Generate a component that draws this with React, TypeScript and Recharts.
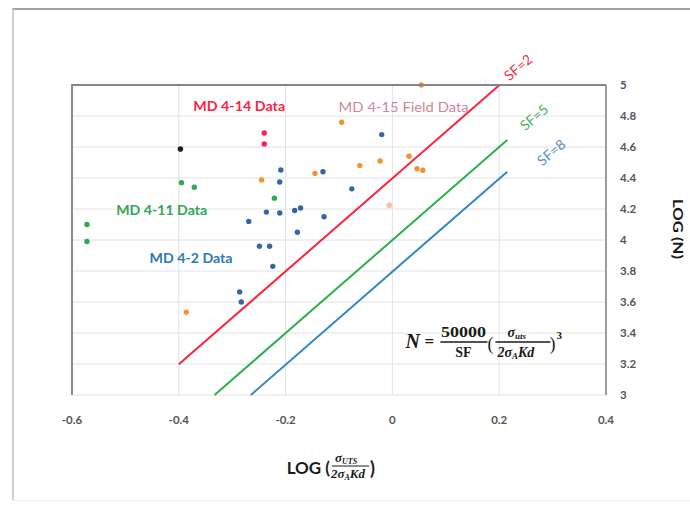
import React from "react";
import {
  ScatterChart,
  Scatter,
  XAxis,
  YAxis,
  CartesianGrid,
  ReferenceDot,
} from "recharts";

// axis ticks
const xTicks = [-0.6, -0.4, -0.2, 0, 0.2, 0.4];
const yTicks = [3, 3.2, 3.4, 3.6, 3.8, 4, 4.2, 4.4, 4.6, 4.8, 5];

// MD 4-2 (blue)
const md42 = [
  { x: -0.02, y: 4.68 },
  { x: -0.209, y: 4.452 },
  { x: -0.13, y: 4.44 },
  { x: -0.211, y: 4.374 },
  { x: -0.076, y: 4.33 },
  { x: -0.236, y: 4.18 },
  { x: -0.211, y: 4.174 },
  { x: -0.183, y: 4.19 },
  { x: -0.172, y: 4.206 },
  { x: -0.128, y: 4.15 },
  { x: -0.269, y: 4.12 },
  { x: -0.178, y: 4.05 },
  { x: -0.249, y: 3.96 },
  { x: -0.23, y: 3.96 },
  { x: -0.224, y: 3.83 },
  { x: -0.286, y: 3.665 },
  { x: -0.283, y: 3.6 },
];

// lone black point
const otherPts = [{ x: -0.397, y: 4.587 }];

// MD 4-11 (green)
const md411 = [
  { x: -0.395, y: 4.37 },
  { x: -0.371, y: 4.34 },
  { x: -0.572, y: 4.1 },
  { x: -0.572, y: 3.99 },
  { x: -0.221, y: 4.27 },
];

// MD 4-14 (red)
const md414 = [
  { x: -0.24, y: 4.69 },
  { x: -0.24, y: 4.62 },
];

// MD 4-15 field data (orange)
const md415 = [
  { x: -0.245, y: 4.387 },
  { x: -0.095, y: 4.76 },
  { x: 0.054, y: 5.0 },
  { x: -0.061, y: 4.48 },
  { x: -0.023, y: 4.51 },
  { x: -0.145, y: 4.43 },
  { x: 0.031, y: 4.54 },
  { x: 0.046, y: 4.46 },
  { x: 0.057, y: 4.45 },
  { x: -0.386, y: 3.535 },
];
const md415Faded = [{ x: -0.006, y: 4.225 }];

// safety factor lines
const sf2Line = [
  { x: -0.4, y: 3.198 },
  { x: 0.2, y: 4.998 },
];
const sf5Line = [
  { x: -0.333, y: 3.0 },
  { x: 0.215, y: 4.645 },
];
const sf8Line = [
  { x: -0.265, y: 3.0 },
  { x: 0.215, y: 4.441 },
];

const SANS = "Lato, 'Open Sans', sans-serif";
const SERIF = "'Liberation Serif', 'DejaVu Serif', serif";

const tickStyle = { fontSize: 11.5, fill: "#555555", fontWeight: 700, fontFamily: SANS };

function dot(color: string, r = 2.7) {
  return (p: any) => <circle cx={p.cx} cy={p.cy} r={r} fill={color} />;
}

const noDot = () => <g />;

function note(text: string, color: string, size: number, weight: number, width?: number) {
  return (p: any) => (
    <text
      x={p.cx}
      y={p.cy}
      textAnchor="middle"
      dominantBaseline="central"
      fill={color}
      fontSize={size}
      fontWeight={weight}
      fontFamily={SANS}
      textLength={width}
      lengthAdjust="spacingAndGlyphs"
    >
      {text}
    </text>
  );
}

function sfNote(text: string, color: string) {
  return (p: any) => (
    <text
      x={p.cx}
      y={p.cy}
      textAnchor="middle"
      dominantBaseline="central"
      fill={color}
      fontSize={14}
      fontFamily={SANS}
      transform={`rotate(-40 ${p.cx} ${p.cy})`}
    >
      {text}
    </text>
  );
}

function Formula(p: any) {
  const x = p.cx;
  const y = p.cy;
  const bold = { fontFamily: SERIF, fontWeight: 700, fill: "#1a1a1a" };
  return (
    <g>
      <text x={x} y={y + 6} fontSize={20} fontStyle="italic" {...bold}>
        N
      </text>
      <text x={x + 19} y={y + 5} fontSize={17} {...bold}>
        =
      </text>
      <text x={x + 58} y={y - 5} fontSize={14} textAnchor="middle" textLength={45} lengthAdjust="spacingAndGlyphs" {...bold}>
        50000
      </text>
      <line x1={x + 35} x2={x + 82} y1={y} y2={y} stroke="#1a1a1a" strokeWidth={1.3} />
      <text x={x + 58} y={y + 15} fontSize={14} textAnchor="middle" {...bold}>
        SF
      </text>
      <text x={x + 82} y={y + 8} fontSize={18} fontFamily={SERIF} fill="#1a1a1a">
        (
      </text>
      <text x={x + 102} y={y - 5} fontSize={14} fontStyle="italic" {...bold}>
        σ
        <tspan fontSize={9} dy={2}>
          uts
        </tspan>
      </text>
      <line x1={x + 90} x2={x + 145} y1={y} y2={y} stroke="#1a1a1a" strokeWidth={1.3} />
      <text x={x + 92} y={y + 15} fontSize={14} fontStyle="italic" {...bold}>
        2σ
        <tspan fontSize={9} dy={2}>
          A
        </tspan>
        <tspan dy={-2}>Kd</tspan>
      </text>
      <text x={x + 144} y={y + 8} fontSize={18} fontFamily={SERIF} fill="#1a1a1a">
        )
      </text>
      <text x={x + 151} y={y - 3} fontSize={11} {...bold}>
        3
      </text>
    </g>
  );
}

function XTitle(props: any) {
  const vb = props.viewBox;
  const cx = vb.x + vb.width / 2 - 6;
  const top = vb.y;
  const f = { fontFamily: SERIF, fontWeight: 700, fontStyle: "italic", fill: "#1a1a1a" } as const;
  return (
    <g>
      <text x={cx - 3} y={top + 79} textAnchor="end" fontSize={17} fontWeight={700} fontFamily={SANS} fill="#1a1a1a">
        LOG (
      </text>
      <text x={cx + 2} y={top + 67} fontSize={13} {...f}>
        σ
        <tspan fontSize={8} dy={2}>
          UTS
        </tspan>
      </text>
      <line x1={cx - 1} x2={cx + 36} y1={top + 71} y2={top + 71} stroke="#1a1a1a" strokeWidth={1} />
      <text x={cx - 2} y={top + 83} fontSize={13} {...f}>
        2σ
        <tspan fontSize={8} dy={2}>
          A
        </tspan>
        <tspan dy={-2}>Kd</tspan>
      </text>
      <text x={cx + 37} y={top + 80} fontSize={18} fontWeight={700} fontFamily={SANS} fill="#1a1a1a">
        )
      </text>
    </g>
  );
}

function YTitle(props: any) {
  const vb = props.viewBox;
  const x = vb.x + 72;
  const y = vb.y + vb.height / 2 - 11;
  return (
    <text
      x={x}
      y={y}
      textAnchor="middle"
      dominantBaseline="central"
      fontSize={13}
      fontWeight={700}
      fontFamily={SANS}
      fill="#1a1a1a"
      transform={`rotate(90 ${x} ${y})`}
      textLength={60}
      lengthAdjust="spacingAndGlyphs"
    >
      LOG (N)
    </text>
  );
}

export default function App() {
  return (
    <div style={{ position: "absolute", left: 0, top: 0, width: 690, height: 506, background: "#fff" }}>
      {/* outer picture frame */}
      <div
        style={{
          position: "absolute",
          left: 12,
          top: 8,
          right: 0,
          bottom: 5,
          borderTop: "2px solid #a3a3a3",
          borderLeft: "2px solid #d0d0d0",
          borderBottom: "1px solid #eeeeee",
        }}
      />
      <div style={{ position: "absolute", left: 0, top: 0 }}>
        <ScatterChart width={690} height={506} margin={{ top: 85, right: 24, bottom: 81, left: 72 }}>
          <CartesianGrid stroke="#e2e2e2" strokeWidth={1} />
          <XAxis
            type="number"
            dataKey="x"
            domain={[-0.6, 0.4]}
            ticks={xTicks}
            tickFormatter={(v: number) => String(v)}
            tick={tickStyle}
            axisLine={false}
            tickLine={false}
            tickSize={0}
            tickMargin={21}
            height={30}
            label={<XTitle />}
          />
          <YAxis
            type="number"
            dataKey="y"
            orientation="right"
            domain={[3, 5]}
            ticks={yTicks}
            tickFormatter={(v: number) => String(v)}
            tick={tickStyle}
            axisLine={{ stroke: "#7f7f7f", strokeWidth: 1.5 }}
            tickLine={false}
            tickSize={0}
            tickMargin={14}
            width={60}
            label={<YTitle />}
          />

          <Scatter data={sf2Line} line={{ stroke: "#ff233c", strokeWidth: 2 }} shape={noDot} isAnimationActive={false} />
          <Scatter data={sf5Line} line={{ stroke: "#2bb04a", strokeWidth: 2 }} shape={noDot} isAnimationActive={false} />
          <Scatter data={sf8Line} line={{ stroke: "#2f86c8", strokeWidth: 2 }} shape={noDot} isAnimationActive={false} />

          <Scatter data={md415Faded} shape={dot("#f6c3aa", 3)} isAnimationActive={false} />
          <Scatter data={md415} shape={dot("#f4922e")} isAnimationActive={false} />
          <Scatter data={md42} shape={dot("#3565a4")} isAnimationActive={false} />
          <Scatter data={md411} shape={dot("#2fa84f")} isAnimationActive={false} />
          <Scatter data={md414} shape={dot("#ff1f4b")} isAnimationActive={false} />
          <Scatter data={otherPts} shape={dot("#1c1c2a", 2.8)} isAnimationActive={false} />

          <ReferenceDot x={-0.287} y={4.865} ifOverflow="visible" shape={note("MD 4-14 Data", "#ff1f45", 13, 700, 92)} />
          <ReferenceDot x={0.021} y={4.858} ifOverflow="visible" shape={note("MD 4-15  Field Data", "#cf8797", 13, 400, 130)} />
          <ReferenceDot x={-0.432} y={4.194} ifOverflow="visible" shape={note("MD 4-11 Data", "#33a656", 13, 700, 91)} />
          <ReferenceDot x={-0.377} y={3.884} ifOverflow="visible" shape={note("MD 4-2 Data", "#2f78b8", 13, 700, 83)} />

          <ReferenceDot x={0.235} y={5.116} ifOverflow="visible" shape={sfNote("SF=2", "#f0304d")} />
          <ReferenceDot x={0.265} y={4.794} ifOverflow="visible" shape={sfNote("SF=5", "#42b266")} />
          <ReferenceDot x={0.297} y={4.568} ifOverflow="visible" shape={sfNote("SF=8", "#5b8ec2")} />

          <ReferenceDot x={0.0244} y={3.342} ifOverflow="visible" shape={Formula} />
        </ScatterChart>
      </div>
      {/* plot box top + left edges */}
      <div
        style={{
          position: "absolute",
          left: 71,
          top: 84,
          width: 535,
          height: 311,
          boxSizing: "border-box",
          borderTop: "2px solid #858585",
          borderLeft: "2px solid #8c8c8c",
          pointerEvents: "none",
        }}
      />
    </div>
  );
}
